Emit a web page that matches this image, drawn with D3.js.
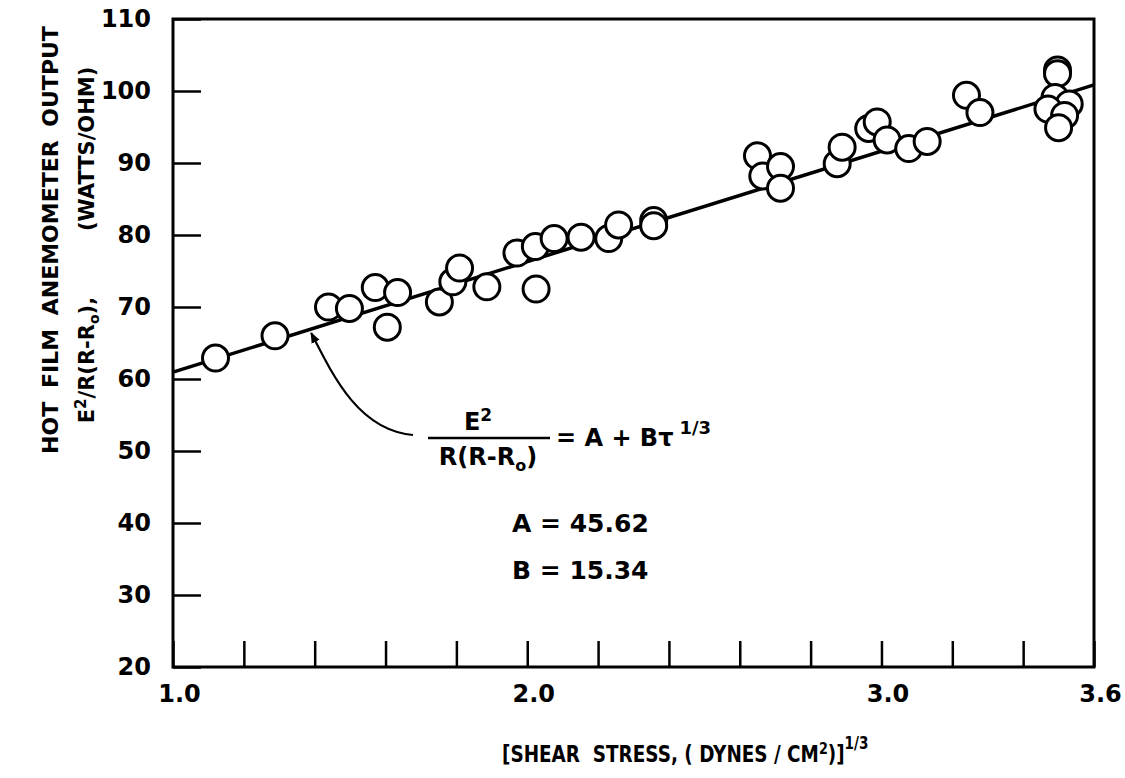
<!DOCTYPE html>
<html>
<head>
<meta charset="utf-8">
<script src="https://cdn.jsdelivr.net/npm/d3@7"></script>
<style>
  body { margin: 0; background: #fff; }
  text { font-family: "DejaVu Sans", sans-serif; font-weight: bold; fill: #000; }
</style>
</head>
<body>
<div id="chart"></div>
<script>
// measured points: cube root of shear stress vs E^2/R(R-R0)
const xVals = [1.12, 1.288, 1.439, 1.498, 1.571, 1.605, 1.634, 1.752, 1.790, 1.809,
               1.886, 1.971, 2.023, 2.025, 2.076, 2.152, 2.230, 2.258, 2.357, 2.357,
               2.65, 2.665, 2.715, 2.715, 2.875, 2.889, 2.964, 2.988, 3.016, 3.077,
               3.129, 3.240, 3.278, 3.497, 3.497, 3.490, 3.530, 3.470, 3.517, 3.500];
const yVals = [62.9, 66.0, 70.0, 69.8, 72.7, 67.2, 72.0, 70.7, 73.5, 75.4,
               72.8, 77.5, 78.4, 72.5, 79.5, 79.7, 79.5, 81.4, 82.0, 81.3,
               91.0, 88.2, 89.5, 86.5, 89.9, 92.2, 94.8, 95.7, 93.2, 92.0,
               93.0, 99.4, 97.0, 102.9, 102.4, 99.1, 98.2, 97.5, 96.6, 94.9];

// fit constants
const coefA = 45.62, coefB = 15.34;

const xTicks = [1.0, 1.2, 1.4, 1.6, 1.8, 2.0, 2.2, 2.4, 2.6, 2.8, 3.0, 3.2, 3.4, 3.6];
const xLabels = [1.0, 2.0, 3.0, 3.6];
const yTicks = [20, 30, 40, 50, 60, 70, 80, 90, 100, 110];

const margin = { top: 19, right: 31, bottom: 111, left: 173 },
      width = 1125 - margin.left - margin.right,
      height = 778 - margin.top - margin.bottom;

const svgRoot = d3.select("#chart").append("svg")
    .attr("width", 1125).attr("height", 778);
const svg = svgRoot.append("g")
    .attr("transform", `translate(${margin.left},${margin.top})`);

const x = d3.scaleLinear().domain([1.0, 3.6]).range([0, width]);
const y = d3.scaleLinear().domain([20, 110]).range([height, 0]);

// x axis, ticks pointing up into plot
const xAxis = svg.append("g")
    .attr("transform", `translate(0,${height})`)
    .call(d3.axisBottom(x)
        .tickValues(xTicks)
        .tickSizeInner(-26).tickSizeOuter(0)
        .tickPadding(18)
        .tickFormat(d => xLabels.some(v => Math.abs(v - d) < 1e-9) ? d.toFixed(1) : ""));
xAxis.select(".domain").remove();
xAxis.selectAll("line").attr("stroke", "#000").attr("stroke-width", 2.5);
xAxis.selectAll("text").style("font-size", "24px").attr("dx", "6");

// y axis, ticks pointing right
const yAxis = svg.append("g")
    .call(d3.axisLeft(y)
        .tickValues(yTicks)
        .tickSizeInner(-28).tickSizeOuter(0)
        .tickPadding(22));
yAxis.select(".domain").remove();
yAxis.selectAll("line").attr("stroke", "#000").attr("stroke-width", 2.5);
yAxis.selectAll("text").style("font-size", "24px");

// frame
svg.append("rect")
    .attr("x", 0).attr("y", 0)
    .attr("width", width).attr("height", height)
    .attr("fill", "none").attr("stroke", "#000").attr("stroke-width", 3);

// fitted line
const line = d3.line().x(d => x(d)).y(d => y(coefA + coefB * d));
svg.append("path")
    .datum(x.domain())
    .attr("d", line)
    .attr("fill", "none").attr("stroke", "#000").attr("stroke-width", 3.5);

// data circles
svg.selectAll(".pt")
    .data(xVals.map((v, i) => [v, yVals[i]]))
    .enter().append("circle")
    .attr("class", "pt")
    .attr("cx", d => x(d[0]))
    .attr("cy", d => y(d[1]))
    .attr("r", 13)
    .attr("fill", "#fff").attr("stroke", "#000").attr("stroke-width", 3);

// arrow to the line
svgRoot.append("defs").append("marker")
    .attr("id", "head").attr("viewBox", "0 0 10 10")
    .attr("refX", 9).attr("refY", 5)
    .attr("markerWidth", 5).attr("markerHeight", 5)
    .attr("orient", "auto")
    .append("path").attr("d", "M0,1 L10,5 L0,9 Z").attr("fill", "#000");

const tip = [x(1.39), y(66.4)];
svg.append("path")
    .attr("d", `M${413 - margin.left},${435 - margin.top} C${360 - margin.left},${430 - margin.top} ${335 - margin.left},${380 - margin.top} ${tip[0]},${tip[1]}`)
    .attr("fill", "none").attr("stroke", "#000").attr("stroke-width", 2.2)
    .attr("marker-end", "url(#head)");

// equation
const eq = svgRoot.append("g");
eq.append("text").attr("x", 478).attr("y", 430).attr("text-anchor", "middle")
    .style("font-size", "24px")
    .html('E<tspan dy="-9" style="font-size:17px">2</tspan>');
eq.append("line").attr("x1", 428).attr("x2", 550).attr("y1", 438).attr("y2", 438)
    .attr("stroke", "#000").attr("stroke-width", 2.5);
eq.append("text").attr("x", 488).attr("y", 465).attr("text-anchor", "middle")
    .style("font-size", "24px")
    .html('R(R-R<tspan dy="6" style="font-size:16px">o</tspan><tspan dy="-6">)</tspan>');
eq.append("text").attr("x", 556).attr("y", 446)
    .style("font-size", "24px")
    .html('= A + Bτ<tspan dy="-12" dx="6" style="font-size:18px">1/3</tspan>');

eq.append("text").attr("x", 512).attr("y", 532).style("font-size", "25px").text("A = 45.62");
eq.append("text").attr("x", 512).attr("y", 579).style("font-size", "25px").text("B = 15.34");

// y title, two lines
svgRoot.append("text")
    .attr("transform", "translate(58,240) rotate(-90)")
    .attr("text-anchor", "middle")
    .style("font-size", "22px")
    .style("word-spacing", "6px")
    .text("HOT FILM ANEMOMETER OUTPUT");
svgRoot.append("text")
    .attr("transform", "translate(94,245) rotate(-90)")
    .attr("text-anchor", "middle")
    .style("font-size", "21px")
    .style("white-space", "pre")
    .html('E<tspan dy="-8" style="font-size:15px">2</tspan><tspan dy="8">/R(R-R</tspan><tspan dy="5" style="font-size:14px">o</tspan><tspan dy="-5">),         (WATTS/OHM)</tspan>');

// x title, narrow lettering
svgRoot.append("text")
    .attr("transform", "translate(502,762) scale(0.8,1)")
    .style("font-size", "23px")
    .style("white-space", "pre")
    .html('[SHEAR  STRESS, ( DYNES / CM<tspan dy="-8" style="font-size:16px">2</tspan><tspan dy="8">)]</tspan><tspan dy="-13" style="font-size:17px">1/3</tspan>');
</script>
</body>
</html>
